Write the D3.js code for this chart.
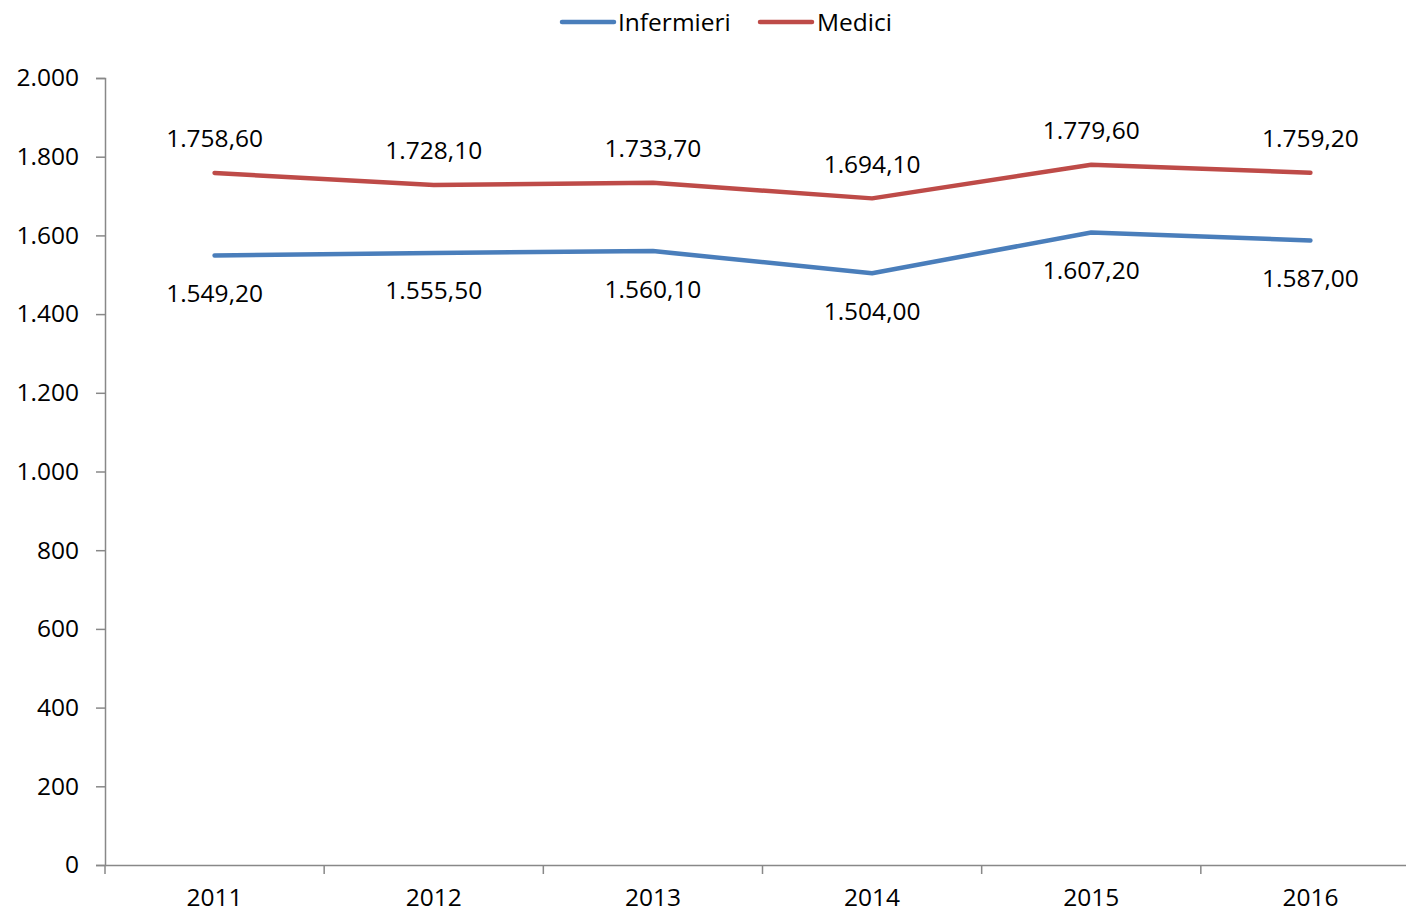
<!DOCTYPE html>
<html><head><meta charset="utf-8">
<script src="https://cdn.jsdelivr.net/npm/d3@7"></script>
<style>body{margin:0;background:#fff}svg{display:block}text{font-family:"Open Sans",sans-serif;fill:#000}</style>
</head><body><svg id="c" width="1406" height="914"></svg>
<script>
const years = ["2011","2012","2013","2014","2015","2016"];
const infermieri = [1549.2,1555.5,1560.1,1504.0,1607.2,1587.0];
const medici = [1758.6,1728.1,1733.7,1694.1,1779.6,1759.2];
const yTicks = [0,200,400,600,800,1000,1200,1400,1600,1800,2000];
const seriesNames = ["Infermieri","Medici"];
const colors = ["#4A7EBB","#BE4B48"];

const svg = d3.select("#c");
const x = d3.scaleBand().domain(years).range([105,1420]);
const y = d3.scaleLinear().domain([0,2000]).range([865,78]);
const fmt = d3.formatLocale({decimal:",",thousands:".",grouping:[3],currency:["","€"]});
const f0 = fmt.format(",.0f"), f2 = fmt.format(",.2f");
const axisColor = "#888";
const fs = "24.5px";

// y axis
const ya = svg.append("g").attr("transform","translate(105,0)")
  .call(d3.axisLeft(y).tickValues(yTicks).tickSize(9).tickPadding(17).tickFormat(f0));
ya.select(".domain").attr("stroke",axisColor).attr("stroke-width",1.5);
ya.selectAll(".tick line").attr("stroke",axisColor).attr("stroke-width",1.5);
ya.selectAll(".tick text").style("font-size",fs).attr("font-family",null);

// x axis
const xa = svg.append("g").attr("transform","translate(0,865)")
  .call(d3.axisBottom(x).tickSize(0).tickPadding(24));
xa.select(".domain").attr("stroke",axisColor).attr("stroke-width",1.5);
xa.selectAll(".tick text").style("font-size",fs).attr("font-family",null);
const bounds = years.map(d=>x(d)).concat([x(years[years.length-1])+x.bandwidth()]);
xa.selectAll(".bt").data(bounds).join("line").attr("class","bt")
  .attr("x1",d=>d).attr("x2",d=>d).attr("y1",0).attr("y2",9)
  .attr("stroke",axisColor).attr("stroke-width",1.5);

const cx = d => x(d)+x.bandwidth()/2;
const line = d3.line().x((d,i)=>cx(years[i])).y(d=>y(d));
[infermieri, medici].forEach((s,k)=>{
  svg.append("path").datum(s).attr("d",line).attr("fill","none")
    .attr("stroke",colors[k]).attr("stroke-width",4.5).attr("stroke-linejoin","round").attr("stroke-linecap","round");
  svg.selectAll(".lab"+k).data(s).join("text").attr("class","lab"+k)
    .attr("x",(d,i)=>cx(years[i])).attr("y",d=>y(d)+(k===0?37:-35))
    .attr("text-anchor","middle").attr("dominant-baseline","central")
    .style("font-size",fs).text(d=>f2(d));
});

// legend
const leg = [{x:562,tx:618},{x:760,tx:817}];
seriesNames.forEach((n,k)=>{
  svg.append("line").attr("x1",leg[k].x).attr("x2",leg[k].x+52).attr("y1",22).attr("y2",22)
    .attr("stroke",colors[k]).attr("stroke-width",4.5).attr("stroke-linecap","round");
  svg.append("text").attr("x",leg[k].tx).attr("y",21).attr("dominant-baseline","central")
    .style("font-size",fs).text(n);
});
</script></body></html>
